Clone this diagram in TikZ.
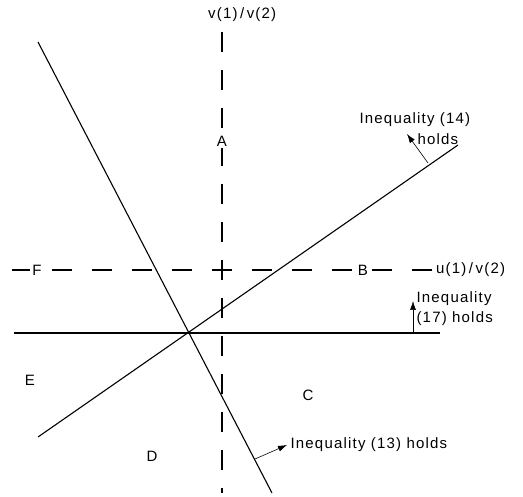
\documentclass[tikz,border=0pt]{standalone}
\usepackage{fontspec}
\setmainfont[LetterSpace=8]{Liberation Sans}
\usetikzlibrary{arrows.meta}

\begin{document}
\begin{tikzpicture}[x=1pt,y=-1pt,font=\fontsize{15}{20}\selectfont,
  axis/.style={dash pattern=on 20pt off 18pt,line width=1.1pt},
  bound/.style={line width=1.1pt},
  hold/.style={-{Latex[length=9pt,width=6pt]},line width=0.6pt},
  region/.style={fill=white,inner sep=2pt}]
\useasboundingbox (0,0) rectangle (523,497);
% ratio axes
\coordinate (vtop) at (222,32);
\coordinate (vbot) at (222,493);
\coordinate (hl) at (12,270);
\coordinate (hr) at (433,270);
\draw[axis] (vtop) -- (vbot);
\draw[axis,dash pattern=on 20pt off 20pt] (hl) -- (hr);
\node[anchor=west,inner sep=1pt] (vlab) at (207,15) {v(1)\,/\,v(2)};
\node[anchor=west,inner sep=3pt] (ulab) at (hr) {u(1)\,/\,v(2)};
% constraint lines
\coordinate (c13a) at (38,42);
\coordinate (c13b) at (272,493);
\coordinate (c14a) at (38,437);
\coordinate (c14b) at (458,145);
\coordinate (c17a) at (14,333);
\coordinate (c17b) at (440,333);
\draw[bound] (c13a) -- (c13b);
\draw[bound] (c14a) -- (c14b);
\draw[bound] (c17a) -- (c17b);
% regions
\node[region] (A) at (222,141) {A};
\node[region] (B) at (363,270) {B};
\node[region] (F) at (37,270) {F};
\node (C) at (308,395) {C};
\node (D) at (152,456) {D};
\node (E) at (30,380) {E};
% which side holds
\node[anchor=west] (t14) at (356,120) {Inequality (14)};
\node[anchor=west] (h14) at (414,139) {holds};
\node[anchor=west,align=left] (t17) at (413,309) {Inequality\\(17) holds};
\node[anchor=west] (t13) at (287,445) {Inequality (13) holds};
\coordinate (p14) at (428,163);
\coordinate (p17) at (413,333);
\coordinate (p13) at (255,459);
\draw[hold] (p14) -- (407,134);
\draw[hold] (p17) -- (413,301);
\draw[hold] (p13) -- (t13.west);
\end{tikzpicture}
\end{document}
